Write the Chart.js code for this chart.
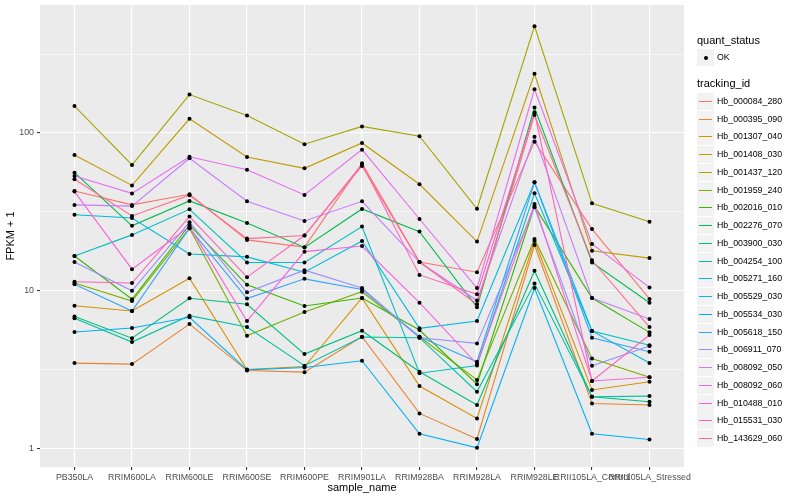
<!DOCTYPE html>
<html lang="en">
<head>
<meta charset="UTF-8">
<title>FPKM + 1 by sample</title>
<script src="https://cdn.jsdelivr.net/npm/chart.js@4.4.1/dist/chart.umd.min.js"></script>
<style>
  body { margin: 0; background: #fff; }
  #wrap { position: relative; width: 800px; height: 500px; }
  #legend { position: absolute; left: 697px; top: 0; font-family: "Liberation Sans", Arial, sans-serif; }
  .ttl { position: absolute; left: 0; font-size: 11px; line-height: 13px; color: #000; white-space: nowrap; }
  .key { position: absolute; left: 0; width: 17px; height: 17px; background: #f2f2f2; }
  .lbl { position: absolute; left: 20px; font-size: 8.8px; line-height: 11px; color: #000; white-space: nowrap; }
</style>
</head>
<body>
<div id="wrap">
<canvas id="myChart" width="800" height="500"></canvas>
<div id="legend"></div>
</div>
<script>
const samples = ['PB350LA', 'RRIM600LA', 'RRIM600LE', 'RRIM600SE', 'RRIM600PE', 'RRIM901LA',
  'RRIM928BA', 'RRIM928LA', 'RRIM928LE', 'RRII105LA_Control', 'RRII105LA_Stressed'];
const trackingIds = ['Hb_000084_280', 'Hb_000395_090', 'Hb_001307_040', 'Hb_001408_030', 'Hb_001437_120',
  'Hb_001959_240', 'Hb_002016_010', 'Hb_002276_070', 'Hb_003900_030', 'Hb_004254_100',
  'Hb_005271_160', 'Hb_005529_030', 'Hb_005534_030', 'Hb_005618_150', 'Hb_006911_070',
  'Hb_008092_050', 'Hb_008092_060', 'Hb_010488_010', 'Hb_015531_030', 'Hb_143629_060'];
const quantStatus = ['OK'];

// FPKM + 1, one array per gene, in sample order
const hb_000084_280 = [42.9, 35.0, 40.9, 21.0, 18.9, 64.3, 15.2, 13.1, 88.1, 24.6, 8.87];
const hb_000395_090 = [3.48, 3.43, 6.15, 3.12, 3.05, 5.11, 1.67, 1.15, 19.5, 1.93, 1.89];
const hb_001307_040 = [8.04, 7.44, 12.0, 3.17, 3.31, 9.0, 2.49, 1.55, 20.7, 2.35, 2.65];
const hb_001408_030 = [72.5, 46.5, 123, 70.4, 59.7, 86.4, 47.3, 20.5, 237, 17.9, 16.1];
const hb_001437_120 = [148, 62.7, 175, 129, 84.8, 110, 95.3, 33.1, 475, 35.8, 27.4];
const hb_001959_240 = [11.2, 8.61, 24.9, 5.19, 7.33, 9.86, 5.11, 2.72, 21.3, 3.72, 2.83];
const hb_002016_010 = [16.6, 8.83, 26.1, 10.9, 8.0, 9.0, 5.64, 2.56, 34.4, 9.0, 5.45];
const hb_002276_070 = [56.0, 25.8, 37.1, 26.9, 18.8, 33.0, 23.7, 7.86, 145, 15.1, 8.40];
const hb_003900_030 = [6.87, 5.0, 8.96, 8.21, 3.97, 5.58, 3.07, 1.89, 13.4, 2.13, 1.98];
const hb_004254_100 = [6.69, 4.73, 6.95, 5.89, 3.35, 5.09, 5.04, 2.29, 11.1, 2.13, 2.15];
const hb_005271_160 = [16.6, 22.6, 32.8, 15.1, 15.1, 25.5, 3.0, 3.36, 41.5, 5.56, 4.51];
const hb_005529_030 = [30.3, 28.9, 17.1, 16.4, 13.1, 20.7, 5.78, 6.43, 48.7, 5.56, 3.48];
const hb_005534_030 = [5.48, 5.81, 6.79, 3.15, 3.26, 3.60, 1.24, 1.01, 10.4, 1.24, 1.14];
const hb_005618_150 = [11.0, 7.44, 24.9, 8.93, 11.9, 10.2, 5.11, 3.55, 48.7, 5.04, 4.11];
const hb_006911_070 = [15.2, 10.0, 27.2, 9.78, 13.5, 10.4, 5.04, 4.64, 33.8, 3.35, 4.46];
const hb_008092_050 = [35.0, 34.4, 69.1, 36.9, 27.7, 36.9, 15.2, 8.67, 94.7, 9.0, 6.62];
const hb_008092_060 = [53.4, 41.4, 70.7, 58.5, 40.5, 78.4, 28.5, 10.4, 189, 19.8, 10.5];
const hb_010488_010 = [42.5, 13.7, 25.5, 6.43, 17.7, 19.2, 8.40, 3.43, 35.5, 2.68, 2.83];
const hb_015531_030 = [11.4, 11.2, 29.5, 12.2, 22.4, 63.3, 12.6, 9.5, 135, 2.68, 5.24];
const hb_143629_060 = [50.9, 29.8, 40.3, 21.4, 22.4, 61.8, 15.2, 8.21, 130, 15.6, 5.89];

const series = [hb_000084_280, hb_000395_090, hb_001307_040, hb_001408_030, hb_001437_120,
  hb_001959_240, hb_002016_010, hb_002276_070, hb_003900_030, hb_004254_100,
  hb_005271_160, hb_005529_030, hb_005534_030, hb_005618_150, hb_006911_070,
  hb_008092_050, hb_008092_060, hb_010488_010, hb_015531_030, hb_143629_060];

const yTicks = [1, 10, 100];

// ggplot default hue palette for 20 groups
const hues = ['#F8766D', '#EA8331', '#D89000', '#C09B00', '#A3A500', '#7CAE00', '#39B600', '#00BB4E',
  '#00BF7D', '#00C1A3', '#00BFC4', '#00BAE0', '#00B0F6', '#35A2FF', '#9590FF', '#C77CFF',
  '#E76BF3', '#FA62DB', '#FF62BC', '#FF6C91'];

const fontFam = '"Liberation Sans", Arial, Helvetica, sans-serif';
Chart.defaults.font.family = fontFam;

const minorTicks = yTicks.map(v => v * Math.sqrt(10));
const isMajor = v => yTicks.includes(v);

const panelBg = {
  id: 'panelBg',
  beforeDraw(chart) {
    const a = chart.chartArea;
    const ctx = chart.ctx;
    ctx.save();
    ctx.fillStyle = '#EBEBEB';
    ctx.fillRect(a.left, a.top, a.right - a.left, a.bottom - a.top);
    ctx.restore();
  }
};

const lineSets = series.map((vals, k) => ({
  type: 'line',
  label: trackingIds[k],
  data: vals.map((v, i) => ({x: i, y: v})),
  borderColor: hues[k],
  borderWidth: 1.1,
  pointRadius: 0,
  tension: 0,
  fill: false,
  order: series.length - k
}));

const pointSet = {
  type: 'scatter',
  label: quantStatus[0],
  data: series.flatMap(vals => vals.map((v, i) => ({x: i, y: v}))),
  backgroundColor: '#000',
  borderWidth: 0,
  pointRadius: 2,
  order: 0
};

const myChart = new Chart(document.getElementById('myChart'), {
  type: 'line',
  data: { datasets: [pointSet].concat(lineSets) },
  options: {
    responsive: false,
    animation: false,
    events: [],
    layout: { padding: { top: 5, right: 116, bottom: 0, left: 0 } },
    plugins: { legend: { display: false }, tooltip: { enabled: false } },
    scales: {
      x: {
        type: 'linear',
        min: -0.6,
        max: 10.6,
        bounds: 'data',
        afterBuildTicks: s => { s.ticks = samples.map((_, i) => ({value: i})); },
        afterFit: s => { s.height = 33; s.paddingLeft = 0; s.paddingRight = 0; },
        ticks: {
          callback: v => samples[v],
          autoSkip: false, maxRotation: 0, minRotation: 0,
          color: '#4D4D4D', font: { size: 8.8 }, padding: 2
        },
        grid: { color: '#FFFFFF', lineWidth: 1.1, tickColor: '#333333', tickLength: 3 },
        border: { display: false },
        title: { display: true, text: 'sample_name', color: '#000', font: { size: 11 }, padding: { top: 0, bottom: 5 } }
      },
      y: {
        type: 'logarithmic',
        min: 0.764,
        max: 647,
        bounds: 'data',
        afterBuildTicks: s => {
          s.ticks = yTicks.concat(minorTicks).sort((a, b) => a - b).map(v => ({value: v}));
        },
        afterFit: s => { s.width = 40; s.paddingTop = 0; s.paddingBottom = 0; },
        ticks: {
          callback: v => (isMajor(v) ? String(v) : ''),
          autoSkip: false,
          color: '#4D4D4D', font: { size: 8.8 }, padding: 3
        },
        grid: {
          color: '#FFFFFF',
          lineWidth: c => (c.tick && isMajor(c.tick.value) ? 1.1 : 0.55),
          tickColor: c => (c.tick && isMajor(c.tick.value) ? '#333333' : 'rgba(0,0,0,0)'),
          tickLength: 3
        },
        border: { display: false },
        title: { display: true, text: 'FPKM + 1', color: '#000', font: { size: 11 }, padding: { top: 4, bottom: 0 } }
      }
    }
  },
  plugins: [panelBg]
});

// legend, laid out like the ggplot guide
const legend = document.getElementById('legend');
function add(cls, top, text) {
  const d = document.createElement('div');
  d.className = cls;
  d.style.top = top + 'px';
  if (text !== undefined) d.textContent = text;
  legend.appendChild(d);
  return d;
}
add('ttl', 40 - 6.5, 'quant_status');
quantStatus.forEach((q, i) => {
  const cy = 57.5 + i * 17.7;
  const k = add('key', cy - 8.5);
  const dot = document.createElement('div');
  dot.style.cssText = 'position:absolute;left:6.5px;top:6.5px;width:4px;height:4px;border-radius:2px;background:#000';
  k.appendChild(dot);
  add('lbl', cy - 5.5, q);
});
add('ttl', 83.5 - 6.5, 'tracking_id');
trackingIds.forEach((t, i) => {
  const cy = Math.round(101 + i * 17.74);
  const k = add('key', cy - 8);
  const ln = document.createElement('div');
  ln.style.cssText = 'position:absolute;left:2px;width:13px;top:7.5px;height:1.5px;background:' + hues[i];
  k.appendChild(ln);
  add('lbl', cy - 5.5, t);
});
</script>
</body>
</html>
